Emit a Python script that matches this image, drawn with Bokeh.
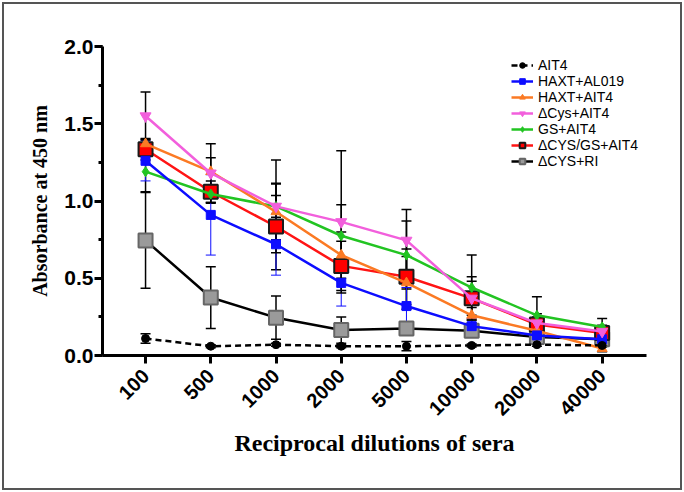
import numpy as np
from math import pi
from bokeh.plotting import figure
from bokeh.models import (ColumnDataSource, Range1d, FixedTicker, SingleIntervalTicker,
                          PrintfTickFormatter, Whisker, TeeHead, Legend, LegendItem)
from bokeh.embed import file_html
from bokeh.resources import INLINE

# ---------------- data ----------------
dilutions = ["100", "500", "1000", "2000", "5000", "10000", "20000", "40000"]

ait4      = [0.11, 0.06, 0.07, 0.06, 0.06, 0.065, 0.07, 0.065]
ait4_sd   = [0.03, 0.01, 0.01, 0.01, 0.03, 0.01, 0.01, 0.01]

haxt_al019    = [1.26, 0.91, 0.72, 0.47, 0.32, 0.19, 0.13, 0.105]
haxt_al019_sd = [0.13, 0.26, 0.20, 0.15, 0.12, 0.05, 0.03, 0.03]

haxt_ait4    = [1.37, 1.19, 0.93, 0.65, 0.47, 0.26, 0.16, 0.045]
haxt_ait4_sd = [0.03, 0.09, 0.18, 0.15, 0.17, 0.05, 0.03, 0.02]

dcys_ait4    = [1.55, 1.18, 0.965, 0.865, 0.745, 0.37, 0.21, 0.155]
dcys_ait4_sd = [0.155, 0.19, 0.30, 0.46, 0.20, 0.14, 0.06, 0.04]

gs_ait4    = [1.19, 1.045, 0.965, 0.775, 0.65, 0.44, 0.26, 0.185]
gs_ait4_sd = [0.13, 0.06, 0.07, 0.20, 0.22, 0.21, 0.12, 0.055]

dcys_gs_ait4    = [1.335, 1.06, 0.835, 0.58, 0.51, 0.37, 0.20, 0.145]
dcys_gs_ait4_sd = [0.07, 0.07, 0.28, 0.16, 0.18, 0.11, 0.05, 0.03]

dcys_ri    = [0.745, 0.375, 0.245, 0.165, 0.175, 0.16, 0.12, 0.105]
dcys_ri_sd = [0.31, 0.20, 0.14, 0.085, 0.03, 0.04, 0.02, 0.02]

legend_order = ["AIT4", "HAXT+AL019", "HAXT+AIT4", "\u0394Cys+AIT4", "GS+AIT4",
                "\u0394CYS/GS+AIT4", "\u0394CYS+RI"]

xs = list(range(len(dilutions)))

# series styles (drawing order: bottom first)
series = [
    dict(name="\u0394CYS+RI", y=dcys_ri, sd=dcys_ri_sd, line="#000000", fill="#9a9a9a",
         edge="#666666", marker="square", size=14, dash="solid", err="#000000", ew=1.5),
    dict(name="\u0394CYS/GS+AIT4", y=dcys_gs_ait4, sd=dcys_gs_ait4_sd, line="#ff1414", fill="#ff0000",
         edge="#1a1a1a", marker="square", size=14, dash="solid", err="#000000", ew=1.5),
    dict(name="GS+AIT4", y=gs_ait4, sd=gs_ait4_sd, line="#22c422", fill="#22c422",
         edge="#22c422", marker="diamond", size=10, dash="solid", err="#000000", ew=1.5),
    dict(name="HAXT+AIT4", y=haxt_ait4, sd=haxt_ait4_sd, line="#fb7a24", fill="#fb7a24",
         edge="#fb7a24", marker="triangle", size=10, dash="solid", err="#000000", ew=1.5),
    dict(name="HAXT+AL019", y=haxt_al019, sd=haxt_al019_sd, line="#0d0dff", fill="#0d0dff",
         edge="#0d0dff", marker="square", size=9, dash="solid", err="#0d0dff", ew=1.0),
    dict(name="\u0394Cys+AIT4", y=dcys_ait4, sd=dcys_ait4_sd, line="#f25fdc", fill="#f25fdc",
         edge="#f25fdc", marker="inverted_triangle", size=11, dash="solid", err="#000000", ew=1.5),
    dict(name="AIT4", y=ait4, sd=ait4_sd, line="#000000", fill="#000000",
         edge="#000000", marker="circle", size=8, dash="6 4", err="#000000", ew=1.5),
]

# ---------------- figure ----------------
p = figure(frame_width=544, frame_height=309,
           min_border_left=102, min_border_right=38, min_border_top=46, min_border_bottom=137,
           x_range=Range1d(-0.66, 7.68), y_range=Range1d(0, 2.0),
           output_backend="svg", toolbar_location=None)
p.border_fill_color = None
p.background_fill_color = None
p.outline_line_color = None
p.xgrid.visible = False
p.ygrid.visible = False
p.styles = {"box-shadow": "inset 0 0 0 2px #ffffff, inset 0 0 0 4px #555555"}

renderers = {}
for s in series:
    src = ColumnDataSource(dict(x=xs, y=s["y"]))
    lr = p.line("x", "y", source=src, line_color=s["line"], line_width=2.5,
                line_dash=s["dash"])
    mr = p.scatter("x", "y", source=src, marker=s["marker"], size=s["size"],
                   fill_color=s["fill"], line_color=s["edge"],
                   line_width=2 if s["size"] >= 14 else 1)
    renderers[s["name"]] = [lr, mr]

for s in series:
    y = np.array(s["y"])
    sd = np.array(s["sd"])
    esrc = ColumnDataSource(dict(base=xs, upper=y + sd, lower=y - sd))
    w = Whisker(source=esrc, base="base", upper="upper", lower="lower",
                line_color=s["err"], line_width=s["ew"],
                upper_head=TeeHead(size=10, line_color=s["err"], line_width=s["ew"]),
                lower_head=TeeHead(size=10, line_color=s["err"], line_width=s["ew"]))
    p.add_layout(w)

# axes
p.xaxis.ticker = FixedTicker(ticks=xs)
p.xaxis.major_label_overrides = {i: d for i, d in enumerate(dilutions)}
p.xaxis.major_label_orientation = pi / 4
p.xaxis.minor_tick_line_color = None
p.yaxis.ticker = SingleIntervalTicker(interval=0.5, num_minor_ticks=2)
p.yaxis.formatter = PrintfTickFormatter(format="%.1f")

for ax in (p.xaxis[0], p.yaxis[0]):
    ax.axis_line_width = 3
    ax.axis_line_color = "black"
    ax.major_tick_line_width = 3
    ax.major_tick_line_color = "black"
    ax.major_tick_out = 8
    ax.major_tick_in = 0
    ax.minor_tick_line_width = 3
    ax.minor_tick_out = 4
    ax.minor_tick_in = 0
    ax.major_label_text_font = "Liberation Sans"
    ax.major_label_text_font_style = "bold"
    ax.major_label_text_color = "black"
    ax.axis_label_text_font = "Liberation Serif"
    ax.axis_label_text_font_style = "bold"
    ax.axis_label_text_color = "black"

p.yaxis.major_label_text_font_size = "21px"
p.xaxis.major_label_text_font_size = "20px"
p.yaxis.major_label_standoff = 1
p.xaxis.major_label_standoff = 9
p.yaxis.axis_label = "Absorbance at 450 nm"
p.xaxis.axis_label = "Reciprocal dilutions of sera"
p.yaxis.axis_label_text_font_size = "20px"
p.xaxis.axis_label_text_font_size = "24px"
p.yaxis.axis_label_standoff = 10
p.xaxis.axis_label_standoff = 5

# legend
items = [LegendItem(label=n, renderers=renderers[n]) for n in legend_order]
legend = Legend(items=items, location=(409, 186), orientation="vertical",
                glyph_width=22, glyph_height=14, label_height=14, spacing=0,
                label_standoff=5, padding=0, margin=0,
                label_text_font="Liberation Sans", label_text_font_size="14px",
                label_text_color="black", border_line_color=None,
                background_fill_color=None)
p.add_layout(legend)

open("out.html", "w").write(file_html(p, INLINE))
